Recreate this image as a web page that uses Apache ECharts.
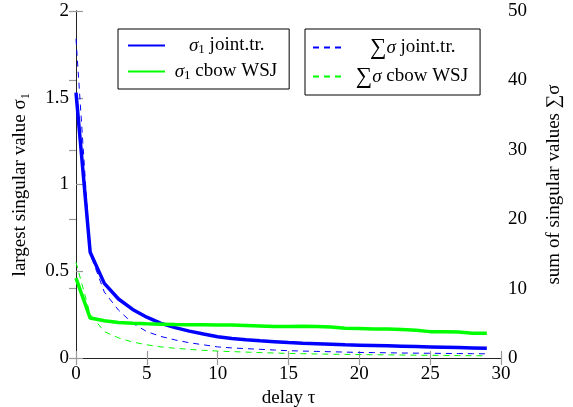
<!DOCTYPE html>
<html><head><meta charset="utf-8">
<script src="https://cdn.jsdelivr.net/npm/echarts@6/dist/echarts.min.js"></script>
<style>html,body{margin:0;padding:0;background:#fff}#c{width:573px;height:407px}</style>
</head><body><div id="c"></div>
<script>
const delays = [0,1,2,3,4,5,6,7,8,9,10,11,12,13,14,15,16,17,18,19,20,21,22,23,24,25,26,27,28,29];
const sigmaJoint = [1.53,0.61,0.43,0.34,0.28,0.235,0.2,0.175,0.155,0.138,0.122,0.112,0.105,0.099,0.094,0.089,0.085,0.082,0.079,0.076,0.074,0.072,0.07,0.068,0.066,0.064,0.062,0.06,0.058,0.056];
const sigmaCbow = [0.46,0.23,0.215,0.205,0.2,0.197,0.195,0.193,0.192,0.191,0.19,0.19,0.188,0.185,0.182,0.182,0.183,0.182,0.178,0.172,0.17,0.167,0.167,0.164,0.16,0.152,0.152,0.15,0.143,0.142];
const sumJoint = [46,15,9.5,6.9,5,3.8,3.1,2.6,2.2,1.9,1.6,1.45,1.35,1.25,1.15,1.05,1.0,0.95,0.9,0.85,0.8,0.78,0.75,0.72,0.7,0.68,0.66,0.64,0.62,0.6];
const sumCbow = [13.8,6.3,3.8,2.9,2.3,1.9,1.6,1.4,1.25,1.1,1.0,0.92,0.85,0.78,0.72,0.66,0.62,0.58,0.55,0.52,0.5,0.47,0.45,0.43,0.41,0.39,0.37,0.35,0.33,0.32];
const leftTicks = [0,0.5,1,1.5,2];
const rightTicks = [0,10,20,30,40,50];

const F = 'Liberation Serif';
const FS = 19;
const rich = {
  i:{fontFamily:F,fontStyle:'italic',fontSize:FS,color:'#000'},
  s:{fontFamily:F,fontSize:13,color:'#000',verticalAlign:'bottom',padding:[8,0,0,0]},
  t:{fontFamily:F,fontSize:FS,color:'#000'},
  g:{fontFamily:F,fontSize:23,color:'#000'}
};
const names = {
  a:'σ1 joint.tr.', b:'σ1 cbow WSJ', c:'∑σ joint.tr.', d:'∑σ cbow WSJ'
};
function fmt(n){
  if(n===names.a) return '    {i|σ}{s|1}{t| joint.tr.}';
  if(n===names.b) return ' {i|σ}{s|1}{t| cbow WSJ}';
  if(n===names.c) return '    {g|∑}{i|σ}{t| joint.tr.}';
  if(n===names.d) return ' {g|∑}{i|σ}{t| cbow WSJ}';
  return n;
}
const chart = echarts.init(document.getElementById('c'));
const tick = {show:true,inside:true,length:7,lineStyle:{color:'#999',width:1.2}};
const axisCommon = {
  axisLine:{show:true,lineStyle:{color:'#222',width:1}},
  axisTick:tick,
  splitLine:{show:false},
  axisLabel:{fontFamily:F,fontSize:FS,color:'#000',margin:7}
};
const legendCommon = {
  orient:'vertical',borderColor:'#000',borderWidth:1,borderRadius:0,
  itemGap:6,itemHeight:19,itemStyle:{opacity:0},
  formatter:fmt,textStyle:{rich:rich,fontSize:FS,fontFamily:F}
};
chart.setOption({
  animation:false,
  grid:{left:76,right:72,top:11,bottom:49,outerBoundsMode:'none',containLabel:false},
  legend:[Object.assign({},legendCommon,{
    data:[names.a,names.b],left:118,top:29,
    padding:[7,12,7,9],itemWidth:37
  }),Object.assign({},legendCommon,{
    data:[names.c,names.d],left:305,top:29,
    padding:[7,12,7,7],itemWidth:33
  })],
  xAxis:[Object.assign({},axisCommon,{
    type:'value',min:0,max:30,interval:5,position:'bottom',
    name:'delay τ',nameLocation:'middle',nameGap:30,
    nameTextStyle:{fontFamily:F,fontSize:FS,color:'#000'}
  }),Object.assign({},axisCommon,{
    type:'value',min:0,max:30,interval:5,position:'top',axisLabel:{show:false}
  })],
  yAxis:[Object.assign({},axisCommon,{
    type:'value',min:0,max:2,interval:0.5,position:'left',
    axisLabel:{fontFamily:F,fontSize:FS,color:'#000',margin:7,formatter:v=>String(v)},
    name:'largest singular value σ₁',nameLocation:'middle',nameGap:46,
    nameTextStyle:{fontFamily:F,fontSize:FS,color:'#000'}
  }),Object.assign({},axisCommon,{
    type:'value',min:0,max:50,interval:10,position:'right',
    name:'sum of singular values ∑σ',nameLocation:'middle',nameGap:44,
    nameTextStyle:{fontFamily:F,fontSize:FS,color:'#000'}
  })],
  series:[
    {name:names.a,type:'line',xAxisIndex:0,yAxisIndex:0,showSymbol:false,symbol:'none',
     data:delays.map((d,i)=>[d,sigmaJoint[i]]),lineStyle:{color:'#0000ff',width:3.5},itemStyle:{color:'#0000ff'},z:3},
    {name:names.b,type:'line',xAxisIndex:0,yAxisIndex:0,showSymbol:false,symbol:'none',
     data:delays.map((d,i)=>[d,sigmaCbow[i]]),lineStyle:{color:'#00ff00',width:3.5},itemStyle:{color:'#00ff00'},z:3},
    {name:names.c,type:'line',xAxisIndex:0,yAxisIndex:1,showSymbol:false,symbol:'none',
     data:delays.map((d,i)=>[d,sumJoint[i]]),lineStyle:{color:'#0000ff',width:1,type:[6,5]},itemStyle:{color:'#0000ff'},z:2},
    {name:names.d,type:'line',xAxisIndex:0,yAxisIndex:1,showSymbol:false,symbol:'none',
     data:delays.map((d,i)=>[d,sumCbow[i]]),lineStyle:{color:'#00ff00',width:1,type:[6,5]},itemStyle:{color:'#00ff00'},z:2}
  ]
});
</script></body></html>
